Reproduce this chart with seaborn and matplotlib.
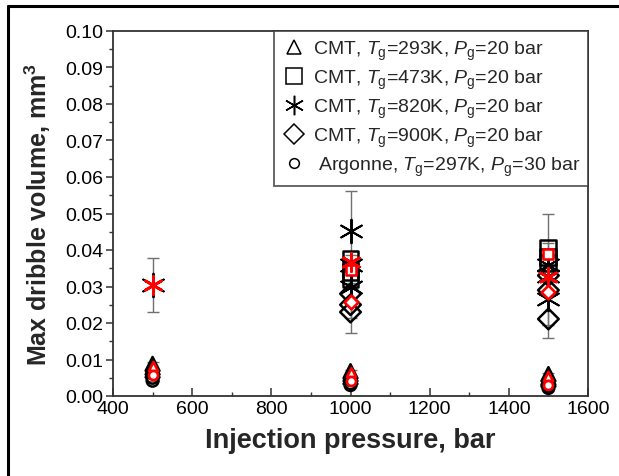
import numpy as np
import pandas as pd
import matplotlib
matplotlib.use("Agg")
import matplotlib.pyplot as plt
from matplotlib.lines import Line2D
from matplotlib.ticker import MultipleLocator
import seaborn as sns

# ---------------- data ----------------
labels = [r"CMT, $\it{T}_{\rm g}$=293K, $\it{P}_{\rm g}$=20 bar",
          r"CMT, $\it{T}_{\rm g}$=473K, $\it{P}_{\rm g}$=20 bar",
          r"CMT, $\it{T}_{\rm g}$=820K, $\it{P}_{\rm g}$=20 bar",
          r"CMT, $\it{T}_{\rm g}$=900K, $\it{P}_{\rm g}$=20 bar",
          r" Argonne, $\it{T}_{\rm g}$=297K, $\it{P}_{\rm g}$=30 bar"]

# individual runs (black open markers)
t293_p = [500, 500, 500, 1000, 1000, 1000, 1500, 1500, 1500]
t293_v = [0.0088, 0.0078, 0.0070, 0.0068, 0.0060, 0.0052, 0.0060, 0.0050, 0.0045]
t473_p = [1000, 1000, 1000, 1500, 1500, 1500]
t473_v = [0.0375, 0.0340, 0.0320, 0.0405, 0.0380, 0.0365]
t820_p = [500, 1000, 1000, 1000, 1500, 1500, 1500]
t820_v = [0.0304, 0.0453, 0.0360, 0.0300, 0.0360, 0.0330, 0.0265]
t900_p = [1000, 1000, 1000, 1500, 1500, 1500]
t900_v = [0.0280, 0.0250, 0.0230, 0.0330, 0.0290, 0.0211]
arg_p = [500, 500, 500, 1000, 1000, 1000, 1500, 1500, 1500]
arg_v = [0.0062, 0.0050, 0.0042, 0.0045, 0.0035, 0.0030, 0.0035, 0.0028, 0.0022]

# means (red markers) and error bar limits
t293_mp = [500, 1000, 1500]
t293_m = [0.0083, 0.0065, 0.0056]
t293_lo = [0.0070, 0.0052, 0.0045]
t293_hi = [0.0092, 0.0072, 0.0062]
t473_mp = [1000, 1500]
t473_m = [0.0345, 0.0389]
t473_lo = [0.0310, 0.0355]
t473_hi = [0.0385, 0.0420]
t820_mp = [500, 1000, 1500]
t820_m = [0.0304, 0.0366, 0.0325]
t820_lo = [0.0229, 0.0173, 0.0159]
t820_hi = [0.0378, 0.0562, 0.0500]
t900_mp = [1000, 1500]
t900_m = [0.0257, 0.0286]
t900_lo = [0.0215, 0.0195]
t900_hi = [0.0300, 0.0345]
arg_mp = [500, 1000, 1500]
arg_m = [0.0058, 0.0040, 0.0030]
arg_lo = [0.0040, 0.0028, 0.0020]
arg_hi = [0.0066, 0.0048, 0.0038]

xticks = [400, 600, 800, 1000, 1200, 1400, 1600]

# ---------------- style ----------------
sns.set_theme(style="ticks")
plt.rcParams["font.family"] = ["Liberation Sans", "DejaVu Sans"]
plt.rcParams["mathtext.fontset"] = "custom"
plt.rcParams["mathtext.rm"] = "Liberation Sans"
plt.rcParams["mathtext.it"] = "Liberation Sans:italic"
plt.rcParams["mathtext.bf"] = "Liberation Sans:bold"

fig = plt.figure(figsize=(6.19, 4.77), dpi=100)
ax = fig.add_axes([113 / 619, 1 - 397 / 477, 475 / 619, 365 / 477])

STAR = (6, 2, 0)
conds = [
    ("^", 10, 6.5, t293_p, t293_v, t293_mp, t293_m, t293_lo, t293_hi),
    ("s", 11.5, 6.5, t473_p, t473_v, t473_mp, t473_m, t473_lo, t473_hi),
    (STAR, 17, 13, t820_p, t820_v, t820_mp, t820_m, t820_lo, t820_hi),
    ("D", 10.5, 7, t900_p, t900_v, t900_mp, t900_m, t900_lo, t900_hi),
    ("o", 8.5, 6.5, arg_p, arg_v, arg_mp, arg_m, arg_lo, arg_hi),
]

# black individual runs
for mk, ms, _, px, pv, *_ in conds:
    df = pd.DataFrame({"p": px, "v": pv})
    if mk == STAR:
        sns.scatterplot(data=df, x="p", y="v", marker=mk, s=ms ** 2,
                        color="black", linewidth=1.4, ax=ax, zorder=3)
    else:
        sns.scatterplot(data=df, x="p", y="v", marker=mk, s=ms ** 2,
                        facecolor="none", edgecolor="black", linewidth=1.8,
                        ax=ax, zorder=3)

# error bars
for mk, _, _, _, _, mp, m, lo, hi in conds:
    m_a = np.array(m)
    yerr = np.vstack([m_a - np.array(lo), np.array(hi) - m_a])
    ax.errorbar(mp, m, yerr=yerr, fmt="none", ecolor="#707070",
                elinewidth=1.0, capsize=4, capthick=1.0, zorder=2)

# red means
for mk, _, msr, _, _, mp, m, *_ in conds:
    df = pd.DataFrame({"p": mp, "v": m})
    if mk == STAR:
        sns.scatterplot(data=df, x="p", y="v", marker=mk, s=msr ** 2,
                        color="red", linewidth=2.0, ax=ax, zorder=5)
    else:
        sns.scatterplot(data=df, x="p", y="v", marker=mk, s=msr ** 2,
                        facecolor="white", edgecolor="red", linewidth=1.9,
                        ax=ax, zorder=5)

ax.set_xlim(400, 1600)
ax.set_ylim(0, 0.10)
ax.set_xticks(xticks)
ax.xaxis.set_minor_locator(MultipleLocator(100))
ax.yaxis.set_major_locator(MultipleLocator(0.01))
ax.yaxis.set_minor_locator(MultipleLocator(0.005))
ax.yaxis.set_major_formatter(matplotlib.ticker.FormatStrFormatter("%.2f"))

for s in ax.spines.values():
    s.set_visible(True)
    s.set_color("#333333")
    s.set_linewidth(1.3)

ax.tick_params(axis="y", which="major", direction="out", length=5, width=1.1,
               labelsize=14, color="#333333", labelcolor="black", pad=2)
ax.tick_params(axis="y", which="minor", direction="out", length=3, width=1.0,
               color="#333333")
ax.tick_params(axis="x", which="major", direction="in", length=6, width=1.1,
               labelsize=14, color="#333333", labelcolor="black", pad=3)
ax.tick_params(axis="x", which="minor", direction="in", length=3, width=1.0,
               color="#333333")

ax.set_xlabel("Injection pressure, bar", fontsize=19.5, fontweight="bold",
              labelpad=7)
ax.set_ylabel(r"Max dribble volume, mm$^{\mathbf{3}}$", fontsize=18,
              fontweight="bold", labelpad=9)

# legend
handles = []
for mk, ms, *_ in conds:
    if mk == STAR:
        h = Line2D([], [], linestyle="none", marker=mk, markersize=14,
                   color="black", markeredgewidth=1.1)
    else:
        h = Line2D([], [], linestyle="none", marker=mk,
                   markersize={"^": 9.5, "s": 11, "D": 10, "o": 7}[mk],
                   markerfacecolor="none", markeredgecolor="black",
                   markeredgewidth=1.1)
    handles.append(h)
leg = ax.legend(handles, labels, loc="upper right", bbox_to_anchor=(1.0, 1.0),
                borderaxespad=0, fontsize=14, frameon=True, fancybox=False,
                shadow=False, edgecolor="#333333", labelspacing=0.3,
                handletextpad=0.3, handlelength=1.3, borderpad=0.4)
leg.get_frame().set_linewidth(1.3)
leg.set_zorder(10)

# outer frame lines (left and top)
fig.add_artist(Line2D([8 / 619, 8 / 619], [0, 1 - 7 / 477],
                      transform=fig.transFigure, color="black", lw=2.2))
fig.add_artist(Line2D([8 / 619, 1], [1 - 7 / 477, 1 - 7 / 477],
                      transform=fig.transFigure, color="black", lw=2.2))

fig.savefig("out.png", dpi=100)
